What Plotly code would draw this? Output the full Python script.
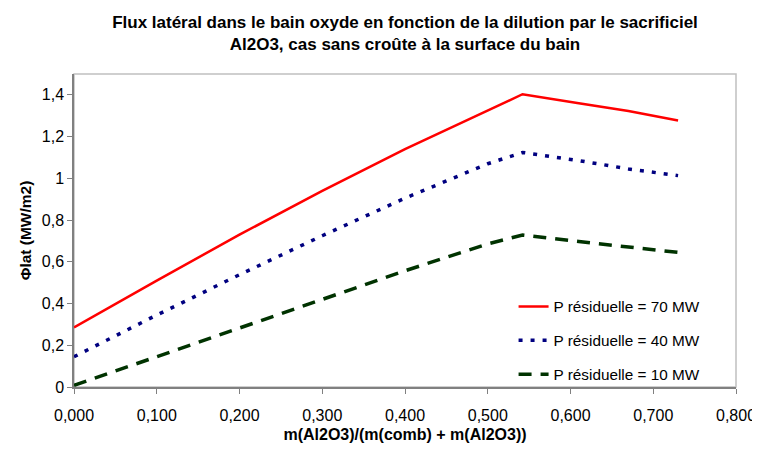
import plotly.graph_objects as go

# ratio massique Al2O3 / (comb + Al2O3)
ratio = [0.000, 0.100, 0.200, 0.300, 0.400, 0.500, 0.542, 0.610, 0.670, 0.730]

# flux lateral (MW/m2) pour chaque puissance residuelle
flux_70 = [0.285, 0.510, 0.730, 0.940, 1.140, 1.325, 1.403, 1.360, 1.323, 1.277]
flux_40 = [0.145, 0.345, 0.538, 0.725, 0.905, 1.070, 1.124, 1.085, 1.045, 1.013]
flux_10 = [0.008, 0.146, 0.285, 0.423, 0.557, 0.686, 0.728, 0.697, 0.671, 0.645]

series_names = ["P résiduelle = 70 MW", "P résiduelle = 40 MW", "P résiduelle = 10 MW"]

x_ticks = [0.0, 0.1, 0.2, 0.3, 0.4, 0.5, 0.6, 0.7, 0.8]

font_family = "Liberation Sans, Arial, sans-serif"

# the page body has an 8px default margin: margins below are shifted by 8px
W, H = 760, 450

fig = go.Figure()

fig.add_trace(go.Scatter(
    x=ratio, y=flux_70, mode="lines", name=series_names[0],
    line=dict(color="#ff0000", width=2.5),
    legendgroup="g70",
))
fig.add_trace(go.Scatter(
    x=ratio, y=flux_40, mode="lines", name=series_names[1],
    line=dict(color="#000080", width=3.5, dash="4px,8px"),
    legendgroup="g40",
))
fig.add_trace(go.Scatter(
    x=ratio, y=flux_10, mode="lines", name=series_names[2],
    line=dict(color="#003300", width=3.5, dash="13px,9px"),
    legendgroup="g10",
))

# light grey frame around the plot area (Excel style)
fig.add_shape(type="rect", xref="paper", yref="paper", x0=0, y0=0, x1=1, y1=1,
              line=dict(color="#c0c0c0", width=1.5), layer="below")

fig.update_layout(
    width=W, height=H,
    margin=dict(l=66, r=32, t=66, b=71),
    paper_bgcolor="white", plot_bgcolor="white",
    separators=", ",
    font=dict(family=font_family, size=16, color="#000000"),
    title=dict(
        text="<b>Flux latéral dans le bain oxyde en fonction de la dilution par le sacrificiel<br>"
             "Al2O3, cas sans croûte à la surface du bain</b>",
        x=0.5, xanchor="center", xref="paper",
        y=1 - 19.5 / H, yanchor="middle",
        font=dict(size=17, family=font_family),
    ),
    xaxis=dict(
        range=[0, 0.8], tickvals=x_ticks, tickformat=".3f",
        showgrid=False, zeroline=False,
        showline=True, linecolor="#808080", linewidth=1.5,
        ticks="outside", ticklen=5, tickcolor="#808080",
        tickfont=dict(size=16), ticklabelstandoff=8,
        ticklabeloverflow="allow",
        title=dict(text="<b>m(Al2O3)/(m(comb) + m(Al2O3))</b>", standoff=6,
                   font=dict(size=16)),
    ),
    yaxis=dict(
        range=[0, 1.5], dtick=0.2, tick0=0,
        showgrid=False, zeroline=False,
        showline=True, linecolor="#808080", linewidth=1.5,
        ticks="outside", ticklen=5, tickcolor="#808080",
        tickfont=dict(size=16),
        title=dict(text="<b>Φlat (MW/m2)</b>", standoff=6, font=dict(size=15.5)),
    ),
    legend=dict(
        x=0.664, y=0.31, xanchor="left", yanchor="top",
        bgcolor="rgba(0,0,0,0)", borderwidth=0,
        font=dict(size=15.3),
        tracegroupgap=11,
        traceorder="grouped",
    ),
    showlegend=True,
)

fig.write_html("out.html")
